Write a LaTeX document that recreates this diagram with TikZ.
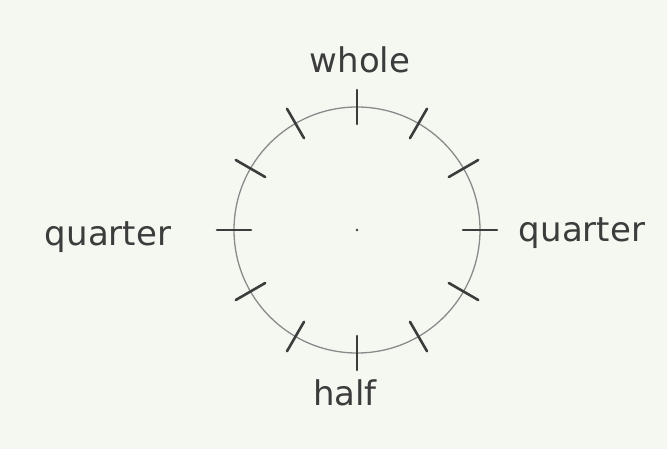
\documentclass[tikz,border=0pt]{standalone}
\usepackage{fontspec}
\setmainfont{DejaVu Sans}
\usepackage{xcolor}
\usetikzlibrary{positioning,calc}
\definecolor{paper}{HTML}{F4F8F1}
\definecolor{pencil}{HTML}{3C3C3C}
\definecolor{rimgray}{HTML}{8A8A8A}
\tikzset{
  lbl/.style   = {anchor=base, text=pencil, font=\fontsize{29}{32}\selectfont, inner sep=0pt},
  rim/.style   = {draw=rimgray, line width=1.1pt},
  tick/.style  = {draw=pencil, line width=2.2pt, line cap=round},
  ctr/.style   = {circle, fill=pencil, inner sep=0pt, minimum size=2.5pt},
}

\begin{document}
\begin{tikzpicture}[x=0.03cm, y=-0.03cm]

% page
\fill[paper] (0,0) rectangle (667,449);
\useasboundingbox (0,0) rectangle (667,449);

%── clock face ─────────────────────────────────────────────
\def\R{123}
\node[ctr] (c) at (357,230) {};
\draw[rim] (c) circle (\R);
% twelve ticks across the rim
\foreach \k in {0,...,11}{
  \draw[tick] ($(c)+({\k*30}:{\R-17})$) -- ($(c)+({\k*30}:{\R+17})$);
}

%── labels ─────────────────────────────────────────────────
\node[lbl] (whole)  at (360,72)  {whole};
\node[lbl] (qleft)  at (108,245) {quarter};
\node[lbl] (qright) at (582,241) {quarter};
\node[lbl] (half)   at (345,405) {half};

\end{tikzpicture}
\end{document}
